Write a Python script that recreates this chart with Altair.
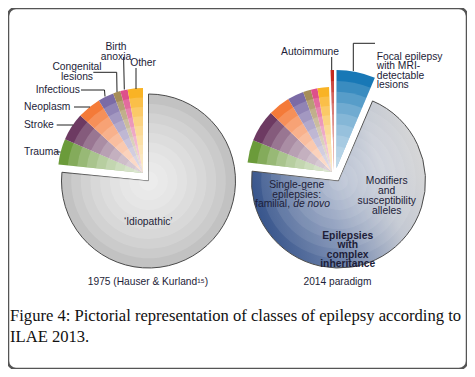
import math
import altair as alt
import pandas as pd

# ---------------- data ----------------
panels = ["1975 (Hauser & Kurland¹⁵)", "2014 paradigm"]

left_categories = ["Idiopathic", "Trauma", "Stroke", "Neoplasm", "Infectious",
                   "Congenital lesions", "Birth anoxia", "Other"]
left_values = [76.6, 4.9, 5.3, 4.5, 3.0, 1.4, 1.4, 2.9]

right_categories = ["Focal epilepsy with MRI-detectable lesions", "Genetic",
                    "Trauma", "Stroke", "Neoplasm", "Infectious",
                    "Congenital lesions", "Birth anoxia", "Other", "Autoimmune"]
right_values = [6.4, 70.4, 4.3, 6.1, 4.2, 3.1, 1.5, 1.25, 2.2, 0.55]

cause_names = ["Trauma", "Stroke", "Neoplasm", "Infectious", "Congenital lesions",
               "Birth anoxia", "Other", "Focal epilepsy with MRI-detectable lesions",
               "Autoimmune"]
cause_colors = ["#6b9b3a", "#6d3a62", "#f47a38", "#7b6ba6", "#a68d58",
                "#de4f8b", "#f9b325", "#1878b6", "#c42a20"]

rows = []
for panel, cats, vals in [(panels[0], left_categories, left_values),
                          (panels[1], right_categories, right_values)]:
    for i, (c, v) in enumerate(zip(cats, vals)):
        rows.append({"panel": panel, "category": c, "value": v, "order": i})
df = pd.DataFrame(rows)
part_of = {"Idiopathic": "core", "Genetic": "core",
           "Focal epilepsy with MRI-detectable lesions": "lesional",
           "Autoimmune": "autoimmune"}
df["part"] = [part_of.get(c, "causes") for c in df["category"]]

# ---------------- styling ----------------
SANS = "Liberation Sans"
SERIF = "Liberation Serif"
TXT = "#1d1d38"

pie_x = alt.X("panel:N", axis=None,
              scale=alt.Scale(type="point", domain=panels, range=[140.5, 330.5], padding=0))
pie_y = alt.value(173)
theta = alt.Theta("start:Q", stack=None,
                  scale=alt.Scale(domain=[0, 100], range=[0, 2 * math.pi]))
theta2 = alt.Theta2("end:Q")
color_enc = alt.Color("category:N", legend=None,
                      scale=alt.Scale(domain=cause_names, range=cause_colors))

right_core_fill = alt.LinearGradient(
    gradient="linear", x1=0.0, y1=0.65, x2=1.0, y2=0.35,
    stops=[alt.GradientStop(color="#34528a", offset=0),
           alt.GradientStop(color="#7286ad", offset=0.42),
           alt.GradientStop(color="#c3c8d2", offset=0.75),
           alt.GradientStop(color="#d8d8d8", offset=1)])

# (panel, part, outer radius, dx, dy, band alpha, fixed colour or None, outline)
groups = [
    (panels[0], "core", 87, 0, 0, 0.15, "#c2c2c2", True),
    (panels[0], "causes", 85, -5.5, -8, 0.17, None, False),
    (panels[1], "core", 87, 0, 0, 0.08, right_core_fill, True),
    (panels[1], "causes", 85, -6.5, -9, 0.17, None, False),
    (panels[1], "lesional", 98, -2, -13, 0.15, None, False),
    (panels[1], "autoimmune", 100, -4.5, -11, 0.15, None, False),
]
NB = 9

base = alt.Chart(df).transform_stack(
    stack="value", groupby=["panel"], as_=["start", "end"],
    sort=[alt.SortField("order")])

layers = []
for panel, part, R, dx, dy, alpha, fixed, outline in groups:
    g = base.transform_filter(
        (alt.datum.panel == panel) & (alt.datum.part == part))
    kw = dict(outerRadius=R, xOffset=dx, yOffset=dy)
    if outline:
        kw.update(stroke="#4a4a4a", strokeWidth=1)
    if fixed is not None:
        layers.append(g.mark_arc(color=fixed, **kw).encode(
            x=pie_x, y=pie_y, theta=theta, theta2=theta2))
    else:
        layers.append(g.mark_arc(**kw).encode(
            x=pie_x, y=pie_y, theta=theta, theta2=theta2, color=color_enc))
    for j in range(1, NB):
        layers.append(g.mark_arc(color="white", opacity=alpha,
                                 outerRadius=R * (NB - j) / NB,
                                 xOffset=dx, yOffset=dy).encode(
            x=pie_x, y=pie_y, theta=theta, theta2=theta2))


# ---------------- annotations ----------------
def label(text, x, y, align="center", size=10.3, weight="normal", style="normal",
          font=SANS, color=TXT, lh=None, baseline="middle"):
    kw = dict(text=text, align=align, baseline=baseline, fontSize=size,
              fontWeight=weight, fontStyle=style, font=font, color=color)
    if lh is not None:
        kw["lineHeight"] = lh
    return alt.Chart(alt.Data(values=[{}])).mark_text(**kw).encode(
        x=alt.value(x), y=alt.value(y))


def leader(points):
    out = []
    for (x1, y1), (x2, y2) in zip(points[:-1], points[1:]):
        out.append(alt.Chart(alt.Data(values=[{}])).mark_rule(
            color="#222222", strokeWidth=1).encode(
            x=alt.value(x1), y=alt.value(y1), x2=alt.value(x2), y2=alt.value(y2)))
    return out


ann = []
# 1975 pie
ann.append(label(["Birth", "anoxia"], 108, 38.7, lh=10))
ann.append(label(["Congenital", "lesions"], 69, 58.8, lh=10))
ann.append(label("Infectious", 27.7, 81.7, align="left"))
ann.append(label("Neoplasm", 16, 98.7, align="left"))
ann.append(label("Stroke", 16, 117, align="left"))
ann.append(label("Trauma", 16, 143.7, align="left"))
ann.append(label("Other", 135, 54.7))
ann += leader([(73, 82), (96.5, 82), (97, 88.5)])
ann += leader([(66, 99), (82, 99)])
ann += leader([(48.7, 117), (65.3, 117)])
ann += leader([(47.5, 144), (52.5, 144)])
ann += leader([(85.3, 64.3), (108.7, 64.3), (109, 84)])
ann += leader([(115.6, 49), (116.3, 81.5)])
ann += leader([(128, 60), (128, 81)])
ann.append(label("‘Idiopathic’", 140.3, 214))
ann.append(label(panels[0], 140, 274, size=10.2))

# 2014 pie
ann.append(label("Autoimmune", 302, 43.7))
ann += leader([(323.7, 49), (323.7, 62)])
ann.append(label(["Focal epilepsy", "with MRI-", "detectable", "lesions"],
                 368.7, 48.6, align="left", lh=9.6))
ann += leader([(367, 35.3), (345.3, 35.3), (345.3, 63)])
ann.append(label(["Modifiers", "and", "susceptibility", "alleles"],
                 378.7, 173.3, lh=9.8))
ann.append(label("Single-gene", 288.7, 177))
ann.append(label("epilepsies:", 288.7, 186.8))
ann.append(label("familial,", 282, 196.3, align="right"))
ann.append(label("de novo", 285.3, 196.3, align="left", style="italic"))
ann.append(label(["Epilepsies", "with", "complex", "inheritance"],
                 339.7, 227.8, weight="bold", lh=9.5))
ann.append(label(panels[1], 329.5, 274, size=10.2))

# caption
ann.append(label("Figure 4: Pictorial representation of classes of epilepsy according to",
                 2, 313, align="left", size=16.6, font=SERIF, color="#111111",
                 baseline="alphabetic"))
ann.append(label("ILAE 2013.", 2, 333.7, align="left", size=16.6, font=SERIF,
                 color="#111111", baseline="alphabetic"))

chart = alt.layer(*layers, *ann).properties(
    width=459, height=361, padding=0,
    autosize=alt.AutoSizeParams(type="none"),
    background="white",
).configure_view(stroke="#555555", strokeWidth=2.5, cornerRadius=8)

chart.save("out.html", embed_options={"renderer": "svg", "actions": False})
